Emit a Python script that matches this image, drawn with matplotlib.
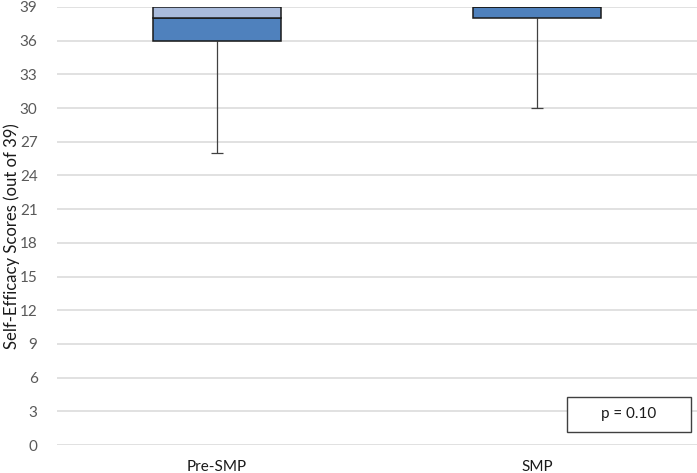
import matplotlib.pyplot as plt
import matplotlib.patches as mpatches
import numpy as np

groups = ["Pre-SMP", "SMP"]
whisk_low = [26, 30]
q1 = [36, 38]
median = [38, 39]
q3 = [39, 39]
whisk_high = [39, 39]
y_ticks = list(range(0, 40, 3))

plt.rcParams['font.family'] = ['Lato', 'DejaVu Sans']

fig = plt.figure(figsize=(6.97, 4.73), dpi=100)
ax = fig.add_axes([57/697, 1-445/473, 640/697, 438/473])

x = np.arange(len(groups))
q1 = np.array(q1); median = np.array(median); q3 = np.array(q3)

# whiskers first so boxes cover them
ax.vlines(x, whisk_low, q1, color="#404040", lw=0.9, zorder=2)
ax.vlines(x, q3, whisk_high, color="#404040", lw=0.9, zorder=2)
ax.hlines(whisk_low, x-0.02, x+0.02, color="#404040", lw=0.9, zorder=2)

ax.bar(x, median-q1, bottom=q1, width=0.4, color="#4F81BD", edgecolor="#1a1a1a", lw=1.1, zorder=3)
ax.bar(x, q3-median, bottom=median, width=0.4, color="#A9BBDC", edgecolor="#1a1a1a", lw=1.1, zorder=3)

ax.set_xlim(-0.5, 1.5)
ax.set_ylim(0, 39)
ax.set_yticks(y_ticks)
ax.set_xticks(x)
ax.set_xticklabels(groups)
ax.grid(axis="y", color="#d9d9d9", lw=1.1, zorder=0)
ax.set_axisbelow(True)
for s in ax.spines.values():
    s.set_visible(False)
ax.tick_params(length=0, labelsize=11)
ax.tick_params(axis="y", colors="#595959", pad=14)
ax.tick_params(axis="x", colors="#1a1a1a", pad=11)
fig.text(12/697, 0.5, "Self-Efficacy Scores (out of 39)", rotation=90, ha="center", va="center",
         fontsize=12, color="#1a1a1a")

# p-value box
fig.patches.append(mpatches.Rectangle((567/697, 1-432/473), 124/697, 35/473,
                                      transform=fig.transFigure, fc="white", ec="#404040", lw=1.0, zorder=5))
fig.text(629/697, 1-414/473, "p = 0.10", ha="center", va="center", fontsize=11, color="#1a1a1a", zorder=6)

fig.savefig("out.png", dpi=100)
